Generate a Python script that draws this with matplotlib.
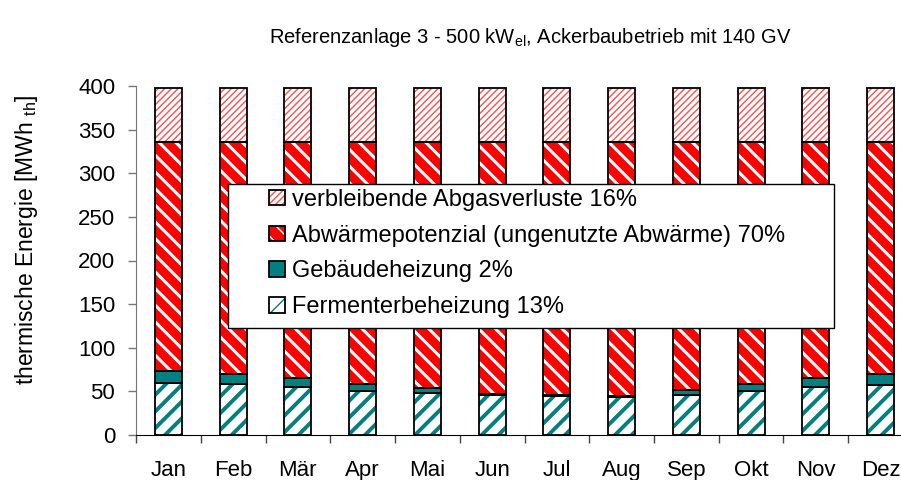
import matplotlib
matplotlib.use("Agg")
import matplotlib.pyplot as plt
import numpy as np
from matplotlib.legend_handler import HandlerTuple
from matplotlib.patches import Rectangle

plt.rcParams["font.family"] = ["Liberation Sans", "DejaVu Sans"]
plt.rcParams["mathtext.fontset"] = "custom"
plt.rcParams["mathtext.rm"] = "Liberation Sans"
plt.rcParams["mathtext.it"] = "Liberation Sans:italic"

months = ["Jan", "Feb", "Mär", "Apr", "Mai", "Jun", "Jul", "Aug", "Sep", "Okt", "Nov", "Dez"]
fermenter = [60, 58, 55, 51, 48.5, 46, 44.5, 44, 46, 50.5, 55, 57]
gebaeude = [13.5, 12, 10, 7, 5, 1, 1, 1, 5.5, 8, 10, 13]
abwaerme_top = [336] * 12          # upper edge of the waste-heat block
gesamt = [398] * 12                # total incl. remaining exhaust losses

labels = ["verbleibende Abgasverluste 16%",
          "Abwärmepotenzial (ungenutzte Abwärme) 70%",
          "Gebäudeheizung 2%",
          "Fermenterbeheizung 13%"]

TEAL = "#008080"
RED = "#ff0000"

ferm = np.array(fermenter)
geb = np.array(gebaeude)
abw = np.array(abwaerme_top) - ferm - geb
rest = np.array(gesamt) - np.array(abwaerme_top)

fig = plt.figure(figsize=(9.01, 4.8), dpi=100, facecolor="white")
ax = fig.add_axes([136 / 901, 45 / 480, 777 / 901, 349 / 480])

x = np.arange(len(months))
w = 0.42


def hatched(bottom, height, face, hatch, hcolor, hlw):
    with plt.rc_context({"hatch.linewidth": hlw}):
        b = ax.bar(x, height, w, bottom=bottom, color=face, edgecolor=hcolor,
                   linewidth=0, hatch=hatch, zorder=2)
    for p in b:
        try:
            p.set_hatch_linewidth(hlw)
        except AttributeError:
            pass
    o = ax.bar(x, height, w, bottom=bottom, facecolor="none", edgecolor="black",
               linewidth=1.3, zorder=3)
    return b, o


h_ferm = hatched(0, ferm, "white", "//", TEAL, 2.8)
h_geb = ax.bar(x, geb, w, bottom=ferm, color=TEAL, edgecolor="black", linewidth=1.3, zorder=3)
h_abw = hatched(ferm + geb, abw, RED, "\\\\", "white", 2.2)
h_rest = hatched(ferm + geb + abw, rest, "white", "/////", "#ff5050", 1.0)

ax.set_xlim(-0.5, len(months) - 0.5)
ax.set_ylim(0, 400)
ax.set_yticks(np.arange(0, 401, 50))
ax.set_xticks(x)
ax.set_xticklabels(months)
ax.set_xticks(np.arange(-0.5, len(months), 1), minor=True)
ax.tick_params(axis="x", which="major", length=0, pad=18, labelsize=16)
ax.tick_params(axis="x", which="minor", length=6, width=1, color="#444444", direction="out")
ax.tick_params(axis="y", length=6, width=1, color="#777777", pad=9, labelsize=16)
for s in ("top", "right"):
    ax.spines[s].set_visible(False)
ax.spines["left"].set_color("#777777")
ax.spines["bottom"].set_color("black")

ax.set_ylabel("thermische Energie [MWh $_{\\rm th}$]", fontsize=16.5)
ax.yaxis.set_label_coords(-0.124, 0.56)

fig.text(0.589, 0.922, "Referenzanlage 3 - 500 kW$_{\\rm el}$, Ackerbaubetrieb mit 140 GV",
         ha="center", va="center", fontsize=14.5)

# legend box drawn by hand so the padding can match
x0, x1 = (228 - 136) / 777, (834 - 136) / 777
y0, y1 = (435 - 328) / 349, (435 - 184) / 349
ax.add_patch(Rectangle((x0, y0), x1 - x0, y1 - y0, transform=ax.transAxes,
                       facecolor="white", edgecolor="black", linewidth=1, zorder=4))

handles = [(h_rest[0][0], h_rest[1][0]),
           (h_abw[0][0], h_abw[1][0]),
           h_geb[0],
           (h_ferm[0][0], h_ferm[1][0])]
leg = ax.legend(handles, labels, handler_map={tuple: HandlerTuple(ndivide=1)},
                loc="upper left", bbox_to_anchor=((269 - 136) / 777, (435 - 189) / 349),
                frameon=False, borderpad=0, borderaxespad=0, fontsize=17,
                handlelength=0.68, handleheight=0.63, handletextpad=0.28,
                labelspacing=0.58)
leg.set_zorder(5)

fig.savefig("out.png", dpi=100, facecolor="white")
